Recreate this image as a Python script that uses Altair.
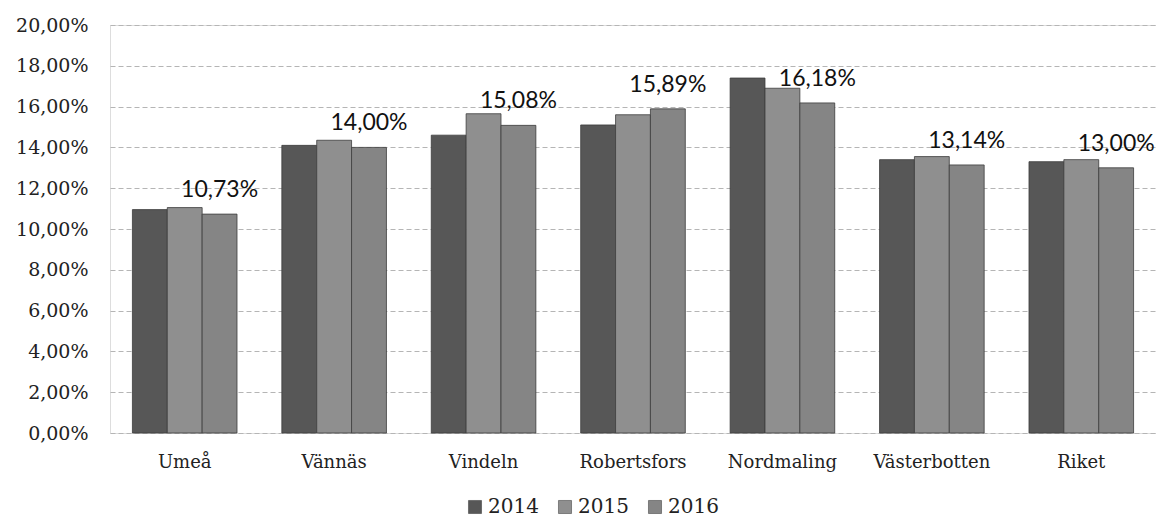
import altair as alt
import pandas as pd

categories = ["Umeå", "Vännäs", "Vindeln", "Robertsfors", "Nordmaling", "Västerbotten", "Riket"]
years = ["2014", "2015", "2016"]
v2014 = [10.95, 14.10, 14.60, 15.10, 17.40, 13.40, 13.30]
v2015 = [11.05, 14.35, 15.65, 15.60, 16.90, 13.55, 13.40]
v2016 = [10.73, 14.00, 15.08, 15.89, 16.18, 13.14, 13.00]
colors = ["#575757", "#8f8f8f", "#858585"]

rows = []
for i, c in enumerate(categories):
    for y, vals in zip(years, [v2014, v2015, v2016]):
        rows.append({"kommun": c, "year": y, "value": vals[i] / 100.0})
df = pd.DataFrame(rows)

serif = "DejaVu Serif"
sans = "Lato"

x = alt.X("kommun:N", sort=categories, title=None,
          scale=alt.Scale(paddingInner=0.3, paddingOuter=0.15),
          axis=alt.Axis(labelAngle=0, labelFont=serif, labelFontSize=18,
                        labelColor="#222222", labelPadding=20, ticks=False,
                        domain=False, grid=False))
y = alt.Y("value:Q", title=None,
          scale=alt.Scale(domain=[0, 0.20], nice=False),
          axis=alt.Axis(values=[0, 0.02, 0.04, 0.06, 0.08, 0.10, 0.12, 0.14, 0.16, 0.18, 0.20],
                        labelExpr="replace(format(datum.value, '.2%'), '.', ',')",
                        labelFont=serif, labelFontSize=19, labelColor="#222222",
                        labelPadding=22, ticks=False, domain=False,
                        grid=True, gridColor="#b5b5b5", gridDash=[5, 3], gridWidth=1))

base = alt.Chart(df).encode(
    x=x,
    xOffset=alt.XOffset("year:N", sort=years),
    y=y,
)

bars = base.mark_bar(stroke="#3c3c3c", strokeWidth=0.8).encode(
    color=alt.Color("year:N", sort=years,
                    scale=alt.Scale(domain=years, range=colors),
                    legend=alt.Legend(title=None, orient="none", direction="horizontal",
                                      legendX=355, legendY=472,
                                      symbolType="square", symbolSize=170,
                                      symbolStrokeColor="#333333", symbolStrokeWidth=0.5,
                                      labelFont=serif, labelFontSize=20,
                                      labelColor="#222222", columnPadding=16,
                                      labelOffset=3))
)

labels = base.transform_filter(alt.datum.year == "2016").transform_calculate(
    lab="replace(format(datum.value, '.2%'), '.', ',')"
).mark_text(font=sans, fontSize=23, color="#111111", baseline="bottom", dy=-12).encode(
    text="lab:N"
)

chart = (bars + labels).properties(
    width=1046, height=408,
    padding={"left": 102, "top": 17, "right": 0, "bottom": 85},
    autosize=alt.AutoSizeParams(type="none"),
).configure_view(stroke=None).configure(background="white")

chart.save("out.html", embed_options={"renderer": "svg", "actions": False})
